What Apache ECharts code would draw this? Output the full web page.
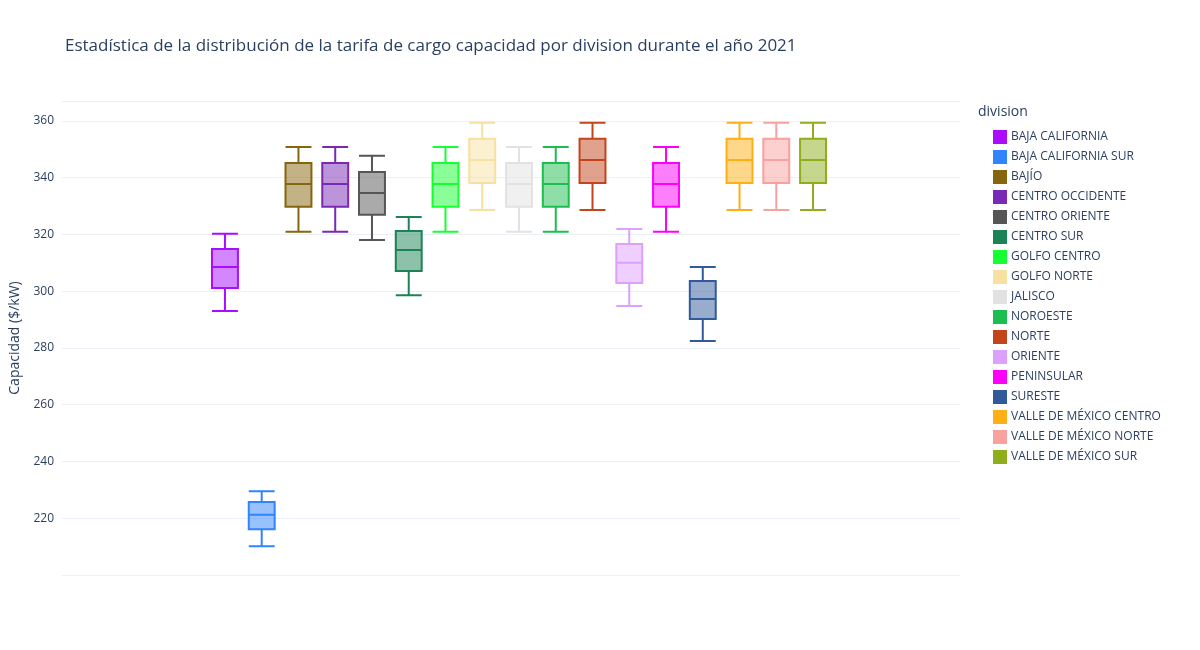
<!DOCTYPE html>
<html lang="es">
<head>
<meta charset="utf-8">
<title>Tarifa de cargo capacidad 2021</title>
<script src="https://cdn.jsdelivr.net/npm/echarts@6/dist/echarts.min.js"></script>
<style>
  html, body {margin: 0; padding: 0; background: #fff;}
  #chart {width: 1200px; height: 650px;}
</style>
</head>
<body>
<div id="chart"></div>
<script>
var divisions = ['BAJA CALIFORNIA', 'BAJA CALIFORNIA SUR', 'BAJÍO', 'CENTRO OCCIDENTE',
  'CENTRO ORIENTE', 'CENTRO SUR', 'GOLFO CENTRO', 'GOLFO NORTE', 'JALISCO', 'NOROESTE',
  'NORTE', 'ORIENTE', 'PENINSULAR', 'SURESTE', 'VALLE DE MÉXICO CENTRO',
  'VALLE DE MÉXICO NORTE', 'VALLE DE MÉXICO SUR'];
var colors = ['#AA0DFE', '#3283FE', '#85660D', '#782AB6', '#565656', '#1C8356', '#16FF32',
  '#F7E1A0', '#E2E2E2', '#1CBE4F', '#C4451C', '#DEA0FD', '#FE00FA', '#325A9B',
  '#FEAF16', '#F8A19F', '#90AD1C'];
// [min, Q1, mediana, Q3, max]
var stats = [
  [293.0, 301.1, 308.5, 314.9, 320.2],
  [210.1, 216.1, 221.2, 225.7, 229.5],
  [320.9, 329.7, 337.8, 345.2, 350.8],
  [320.9, 329.7, 337.8, 345.2, 350.8],
  [318.0, 326.9, 334.6, 342.0, 347.7],
  [298.6, 307.1, 314.5, 321.2, 326.1],
  [320.9, 329.7, 337.8, 345.2, 350.8],
  [328.6, 338.1, 346.2, 353.7, 359.3],
  [320.9, 329.7, 337.8, 345.2, 350.8],
  [320.9, 329.7, 337.8, 345.2, 350.8],
  [328.6, 338.1, 346.2, 353.7, 359.3],
  [294.8, 302.9, 310.0, 316.6, 321.9],
  [320.9, 329.7, 337.8, 345.2, 350.8],
  [282.4, 290.2, 297.2, 303.6, 308.5],
  [328.6, 338.1, 346.2, 353.7, 359.3],
  [328.6, 338.1, 346.2, 353.7, 359.3],
  [328.6, 338.1, 346.2, 353.7, 359.3]
];

function fade(hex, a) {
  var n = parseInt(hex.slice(1), 16);
  return 'rgba(' + (n >> 16) + ',' + ((n >> 8) & 255) + ',' + (n & 255) + ',' + a + ')';
}

var font = '"Open Sans", "Noto Sans", sans-serif';
var yBase = {type: 'value', min: 200, max: 367, interval: 20};

var series = divisions.map(function (d, i) {
  return {
    name: d, type: 'boxplot', xAxisIndex: 0, yAxisIndex: 0,
    itemStyle: {color: fade(colors[i], 0.5), borderColor: colors[i], borderWidth: 2},
    emphasis: {disabled: true},
    data: [stats[i]]
  };
});
// grid de fondo solo para la cuadrícula y las etiquetas
series.push({type: 'line', xAxisIndex: 1, yAxisIndex: 1, data: [], silent: true});

var chart = echarts.init(document.getElementById('chart'));
chart.setOption({
  animation: false,
  textStyle: {fontFamily: font},
  title: {
    text: 'Estadística de la distribución de la tarifa de cargo capacidad por division durante el año 2021',
    left: 60, top: 33,
    textStyle: {fontSize: 17, fontWeight: 'normal', color: '#2a3f5f', fontFamily: font}
  },
  graphic: [{type: 'text', left: 978, top: 105,
    style: {text: 'division', fill: '#2a3f5f', fontSize: 14, fontFamily: font}}],
  legend: {
    orient: 'vertical', left: 988, top: 125, itemGap: 6,
    itemWidth: 12, itemHeight: 12, icon: 'rect',
    textStyle: {color: '#2a3f5f', fontSize: 12, fontFamily: font},
    data: divisions
  },
  grid: [
    {left: 134, width: 770, top: 101, bottom: 75},
    {left: 60, right: 240, top: 101, bottom: 75}
  ],
  xAxis: [
    {type: 'category', gridIndex: 0, data: [''], show: false},
    {type: 'category', gridIndex: 1, data: [''], show: false}
  ],
  yAxis: [
    Object.assign({gridIndex: 0, show: false}, yBase),
    Object.assign({
      gridIndex: 1, name: 'Capacidad ($/kW)', nameLocation: 'middle', nameGap: 40,
      nameTextStyle: {color: '#2a3f5f', fontSize: 14},
      axisLine: {show: false}, axisTick: {show: false},
      axisLabel: {color: '#2a3f5f', fontSize: 12, showMinLabel: false, showMaxLabel: false},
      splitLine: {lineStyle: {color: '#ebf0f8'}}
    }, yBase)
  ],
  series: series
});
</script>
</body>
</html>
